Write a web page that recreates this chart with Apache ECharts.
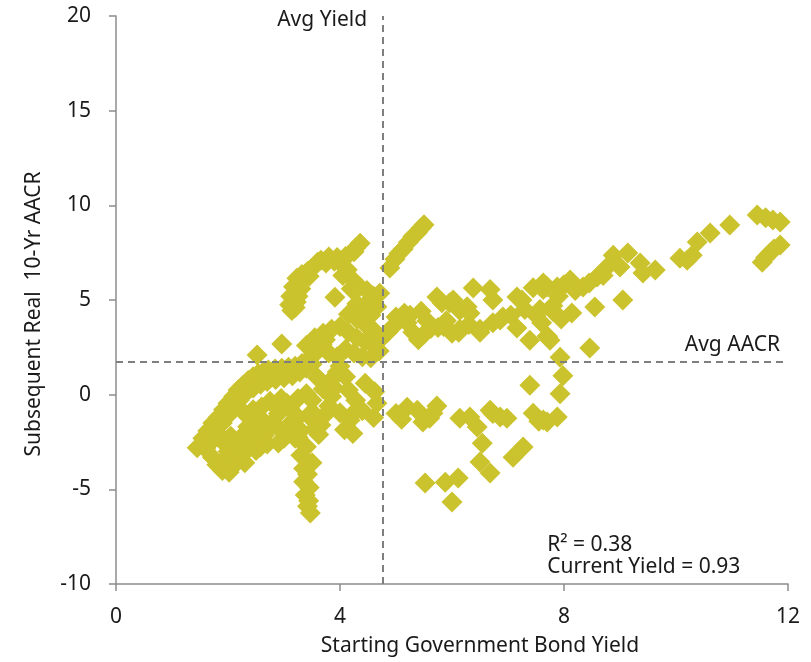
<!DOCTYPE html>
<html>
<head>
<meta charset="utf-8">
<script src="https://cdn.jsdelivr.net/npm/echarts@6/dist/echarts.min.js"></script>
<style>
  html, body { margin: 0; padding: 0; background: #ffffff; }
  #chart { width: 811px; height: 662px; }
</style>
</head>
<body>
<div id="chart"></div>
<script>
// Starting government bond yield (%) vs. subsequent real 10-year AACR (%)
const lowerLeftBand = [
  [1.45,-2.8],[1.55,-2.3],[1.64,-1.9],[1.73,-1.5],[1.82,-1.2],[1.92,-0.8],[2.0,-0.45],[2.1,-0.1],
  [2.18,0.25],[2.27,0.5],[2.36,0.75],[2.45,0.95],[2.54,1.1],[2.63,1.2],[2.72,1.3],[2.84,1.35],
  [2.96,1.4],[3.08,1.45],[3.2,1.5],[3.32,1.65],[3.43,1.85],[3.52,2.1],[3.61,2.35],[3.68,2.65],[3.74,2.9],
  [1.6,-2.85],[1.7,-2.5],[1.8,-2.0],[1.9,-1.5],[2.0,-1.1],[2.1,-0.7],[2.2,-0.3],[2.32,0.1],
  [2.45,0.35],[2.58,0.55],[2.7,0.7],[2.85,0.8],[3.0,0.9],[3.15,1.0],[3.28,1.2],[3.4,1.4],[3.5,1.6],
  [2.52,2.1],[2.96,2.67]
];
const lowerLeftBlob = [
  [1.72,-3.3],[1.8,-3.7],[1.9,-4.0],[2.02,-4.1],[2.1,-3.75],[2.18,-3.35],[2.28,-3.1],[2.38,-2.8],
  [2.5,-2.95],[2.58,-2.75],[1.95,-2.6],[2.05,-2.2],[2.15,-2.55],[2.25,-2.2],[2.4,-2.35],[2.52,-2.2],
  [2.65,-2.15],[2.72,-1.8],[2.78,-1.5],[2.62,-1.35],[2.5,-1.6],[2.38,-1.2],[2.3,-1.0],
  [2.45,-0.8],[2.6,-0.65],[2.75,-0.35],[2.88,-0.5],
  [1.85,-2.3],[2.0,-3.0],[2.2,-2.9],[2.35,-1.7],[2.55,-1.9],[2.7,-2.6],[2.3,-3.6],[1.95,-3.4]
];
const middleLoop = [
  [2.95,-0.2],[3.05,-0.45],[3.15,-0.9],[3.15,-1.4],[3.1,-1.9],[3.0,-2.3],[2.9,-2.55],[3.2,-2.3],
  [3.3,-1.9],[3.25,-0.2],[3.4,0.05],[3.5,-0.3],[3.5,-0.9],[3.5,-1.3],[3.55,-1.8],
  [3.1,-0.7],[3.25,-1.2],[3.2,-1.7],[2.95,-1.9],[2.9,-1.0]
];
const lowSpike = [
  [3.25,-2.25],[3.4,-2.75],[3.3,-3.2],[3.5,-3.6],[3.35,-3.9],[3.42,-4.2],[3.35,-4.6],[3.45,-4.9],
  [3.38,-5.3],[3.44,-5.6],[3.42,-5.9],[3.47,-6.25]
];
const centerBelow = [
  [3.62,-2.1],[3.66,-1.6],[3.72,-1.1],[3.8,-0.6],[3.85,-0.1],[3.9,0.35],[3.85,0.8],[3.95,1.2],
  [4.0,-0.95],[4.08,-1.85],[4.18,-1.35],[4.23,-2.05],[4.15,0.25],[4.28,-0.3],[4.3,-0.8],[4.4,-0.85],
  [4.45,0.6],[4.62,0.15],[4.66,-0.45],[4.6,-1.2],[4.1,0.95],[4.0,1.5],[3.7,0.3],[3.6,0.9]
];
const centerAbove = [
  [3.55,3.0],[3.7,3.25],[3.85,3.45],[4.0,3.6],[4.15,3.3],[4.3,3.0],[4.45,2.8],[4.6,2.6],
  [3.65,2.5],[3.8,2.2],[3.95,2.0],[4.1,2.4],[4.25,2.2],[4.4,2.0],[4.55,1.95],[4.7,2.3],
  [4.75,3.0],[4.6,3.4],[4.45,3.7],[4.3,4.0],[4.15,4.25],[3.4,2.6],
  [4.13,6.6],[4.23,6.05],[4.35,5.7],[4.48,5.5],[4.6,5.2],[4.71,5.35],[4.66,4.65],[4.55,4.2],
  [4.4,4.5],[3.91,5.15],[4.05,6.3],[4.2,5.6],[4.3,4.8],[4.5,4.9]
];
const upperArc = [
  [4.36,8.0],[4.25,7.55],[4.1,7.3],[3.95,7.25],[3.8,7.27],[3.66,7.1],[3.53,6.75],[3.42,6.5],
  [3.32,6.35],[3.23,6.15],[3.17,5.7],[3.12,5.2],[3.1,4.75],[3.14,4.45],[3.22,4.9],[3.3,6.0],
  [3.6,7.0],[4.0,7.0],[4.28,7.75],
  [3.75,6.95],[3.9,7.05],[4.05,7.1],[3.45,6.25],[3.3,5.6],[3.25,5.2],[3.2,4.6]
];
const risingChain = [
  [4.89,6.69],[4.98,7.15],[5.05,7.45],[5.13,7.7],[5.22,8.05],[5.3,8.35],[5.38,8.55],[5.45,8.8],[5.5,8.98]
];
const midBand = [
  [4.85,3.3],[4.95,3.6],[5.05,3.95],[5.15,4.3],[5.2,3.8],[5.3,3.3],[5.4,2.9],[5.5,3.2],[5.62,3.5],
  [5.75,3.55],[5.85,3.6],[5.73,5.16],[5.96,4.85],[5.82,4.85],[6.02,5.0],[6.12,3.3],[6.14,3.45],
  [6.14,4.45],[6.27,4.65],[6.32,4.3],[6.38,5.63],[6.5,3.3],[6.5,3.45],[6.68,5.55],[6.73,5.0],
  [6.73,3.8],[6.86,3.95],[6.91,4.1],[7.05,4.2],[7.16,5.16],[7.16,3.52],[7.25,5.0],[7.39,2.88],
  [7.45,5.65],[7.57,4.5],[7.63,5.55],[7.7,5.7],[7.75,2.88],[7.7,3.1],[7.6,3.8],[7.5,4.2],[7.3,4.5],
  [7.8,4.7],[7.9,5.2],[5.0,4.1],[5.25,4.2],[5.55,3.9],[5.45,4.4],[5.9,3.9],[6.3,3.7],[6.0,3.25]
];
const upperRight = [
  [7.63,5.9],[7.88,5.69],[8.11,6.05],[8.34,5.69],[8.59,6.21],[8.77,6.74],[9.0,6.74],[8.88,7.37],
  [9.14,7.48],[9.36,6.95],[9.41,6.42],[9.63,6.58],[9.05,5.0],[8.55,4.63],[8.14,4.31],[7.71,3.04],
  [8.46,2.46],[8.0,5.8],[8.2,5.5],[8.45,5.9],[8.7,6.3],[7.8,4.4],[7.95,4.0],
  [10.07,7.21],[10.2,7.1],[10.29,7.37],[10.38,8.06],[10.61,8.54],[10.96,8.96],[11.45,9.49],
  [11.6,9.35],[11.73,9.22],[11.86,9.12],[11.86,7.9],[11.75,7.7],[11.68,7.48],[11.6,7.25],[11.54,7.0]
];
const rightBelow = [
  [7.93,1.97],[7.98,1.0],[7.93,0.05],[7.88,-1.18],[7.7,-1.45],[7.63,-1.34],[7.45,-0.98],[7.39,0.5],
  [7.55,-1.4],[6.14,-1.24],[6.32,-1.18],[6.45,-1.71],[6.68,-0.82],[6.86,-1.18],[6.98,-1.24],[6.73,-1.0],
  [6.54,-2.56],[6.5,-3.56],[6.68,-4.14],[7.09,-3.3],[7.27,-2.77],
  [5.52,-4.67],[5.88,-4.62],[6.11,-4.4],[6.0,-5.67],
  [5.2,-0.66],[5.38,-0.82],[5.48,-1.45],[5.66,-0.98],[5.73,-0.6],[5.6,-1.25],[5.0,-1.0],[5.1,-1.3]
];

const avgYield = 4.77;
const avgAACR = 1.72;
const rSquared = '0.38';
const currentYield = '0.93';

const xTicks = { min: 0, max: 12, interval: 4 };
const yTicks = { min: -10, max: 20, interval: 5 };

const points = [].concat(lowerLeftBand, lowerLeftBlob, middleLoop, lowSpike, centerBelow,
  centerAbove, upperArc, risingChain, midBand, upperRight, rightBelow);

const FONT = 'Noto Sans';
const FS = 21;
const TEXT = '#1a1a1a';
const AXIS = '#8c8c8c';

const chart = echarts.init(document.getElementById('chart'), null, { renderer: 'canvas' });

chart.setOption({
  animation: false,
  backgroundColor: '#ffffff',
  grid: { left: 116, right: 23, top: 16, bottom: 78 },
  xAxis: {
    type: 'value', min: xTicks.min, max: xTicks.max, interval: xTicks.interval,
    name: 'Starting Government Bond Yield', nameLocation: 'middle', nameGap: 52,
    nameTextStyle: { fontFamily: FONT, fontSize: FS, color: TEXT, padding: [0, 0, 0, 56] },
    axisLine: { onZero: false, lineStyle: { color: AXIS, width: 1.5 } },
    axisTick: { show: true, inside: false, length: 7, lineStyle: { color: AXIS, width: 1.5 } },
    axisLabel: { fontFamily: FONT, fontSize: FS, color: TEXT, margin: 23 },
    splitLine: { show: false }
  },
  yAxis: {
    type: 'value', min: yTicks.min, max: yTicks.max, interval: yTicks.interval,
    name: 'Subsequent Real  10-Yr AACR', nameLocation: 'middle', nameGap: 71,
    nameTextStyle: { fontFamily: FONT, fontSize: FS, color: TEXT, padding: [0, 28, 0, 0] },
    axisLine: { show: true, onZero: false, lineStyle: { color: AXIS, width: 1.5 } },
    axisTick: { show: true, inside: false, length: 7, lineStyle: { color: AXIS, width: 1.5 } },
    axisLabel: { fontFamily: FONT, fontSize: FS, color: TEXT, margin: 25 },
    splitLine: { show: false }
  },
  series: [{
    type: 'scatter',
    data: points,
    symbol: 'diamond',
    symbolSize: 21,
    itemStyle: { color: '#cbc32d', opacity: 1 },
    markLine: {
      silent: true,
      symbol: ['none', 'none'],
      label: { show: false },
      lineStyle: { color: '#7f7f7f', type: [7, 5], width: 2 },
      data: [
        { xAxis: avgYield },
        { yAxis: avgAACR }
      ]
    }
  }]
});

// Annotations placed from data coordinates
const topLeft = chart.convertToPixel({ gridIndex: 0 }, [avgYield, yTicks.max]);
const rightLine = chart.convertToPixel({ gridIndex: 0 }, [xTicks.max, avgAACR]);
const noteAt = chart.convertToPixel({ gridIndex: 0 }, [7.7, -7.95]);
const textStyle = { fontFamily: FONT, fontSize: FS, fill: TEXT };

chart.setOption({
  graphic: [
    { type: 'text', x: topLeft[0] - 16, y: topLeft[1] + 4,
      style: Object.assign({ text: 'Avg Yield', align: 'right', verticalAlign: 'middle' }, textStyle) },
    { type: 'text', x: rightLine[0] - 8, y: rightLine[1] - 17,
      style: Object.assign({ text: 'Avg AACR', align: 'right', verticalAlign: 'middle' }, textStyle) },
    { type: 'text', x: noteAt[0], y: noteAt[1],
      style: Object.assign({ text: 'R\u00b2 = ' + rSquared, align: 'left', verticalAlign: 'middle' }, textStyle) },
    { type: 'text', x: noteAt[0], y: noteAt[1] + 22,
      style: Object.assign({ text: 'Current Yield = ' + currentYield, align: 'left', verticalAlign: 'middle' }, textStyle) }
  ]
});
</script>
</body>
</html>
